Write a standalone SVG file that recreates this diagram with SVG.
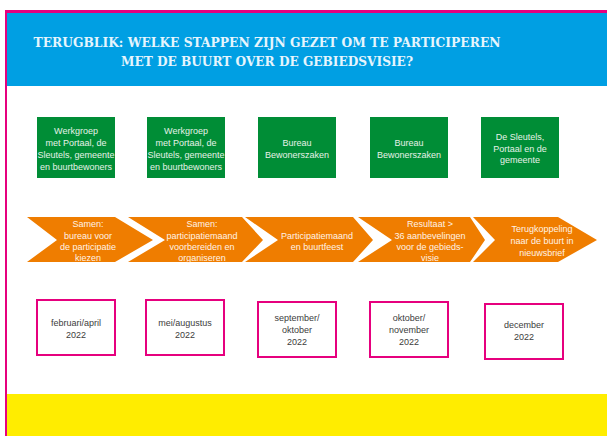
<svg xmlns="http://www.w3.org/2000/svg" width="607" height="436" viewBox="0 0 607 436">
<style>
.bg{fill:#ffffff}
.pink{fill:#e6007e}
.hdr{fill:#009fe3}
.yel{fill:#ffed00}
.title{font-family:"DejaVu Serif","Liberation Serif",serif;font-weight:bold;font-size:13px;fill:#e6f5fd;text-anchor:middle}
.gbox{fill:#008d36}
.gt{font-family:"Liberation Sans",Arial,sans-serif;font-size:9px;fill:#e6f2e8;text-anchor:middle}
.chev{fill:#ef7d00}
.ct{font-family:"Liberation Sans",Arial,sans-serif;font-size:9px;fill:#fff3e6;text-anchor:middle}
.dbox{fill:#ffffff;stroke:#e6007e;stroke-width:2}
.dt{font-family:"Liberation Sans",Arial,sans-serif;font-size:9px;fill:#3c3c3c;text-anchor:middle}
</style>
<rect class="bg" x="0" y="0" width="607" height="436"/>
<g id="frame">
<rect class="hdr" x="7" y="13" width="600" height="73"/>
<rect class="yel" x="7" y="394" width="600" height="42"/>
<rect class="pink" x="5" y="10" width="602" height="3"/>
<rect class="pink" x="5" y="10" width="2" height="426"/>
</g>
<g id="title">
<text class="title" x="267" y="47" textLength="467" lengthAdjust="spacingAndGlyphs">TERUGBLIK: WELKE STAPPEN ZIJN GEZET OM TE PARTICIPEREN</text>
<text class="title" x="267" y="66" textLength="292" lengthAdjust="spacingAndGlyphs">MET DE BUURT OVER DE GEBIEDSVISIE?</text>
</g>
<g id="actor1"><rect class="gbox" x="37" y="117" width="78" height="61"/>
<text class="gt" x="76" y="134">Werkgroep</text><text class="gt" x="76" y="146">met Portaal, de</text><text class="gt" x="76" y="158">Sleutels, gemeente</text><text class="gt" x="76" y="170">en buurtbewoners</text></g>
<g id="actor2"><rect class="gbox" x="147" y="117" width="78" height="61"/>
<text class="gt" x="186" y="134">Werkgroep</text><text class="gt" x="186" y="146">met Portaal, de</text><text class="gt" x="186" y="158">Sleutels, gemeente</text><text class="gt" x="186" y="170">en buurtbewoners</text></g>
<g id="actor3"><rect class="gbox" x="258" y="117" width="78" height="61"/>
<text class="gt" x="297" y="146">Bureau</text><text class="gt" x="297" y="158">Bewonerszaken</text></g>
<g id="actor4"><rect class="gbox" x="370" y="117" width="78" height="61"/>
<text class="gt" x="409" y="146">Bureau</text><text class="gt" x="409" y="158">Bewonerszaken</text></g>
<g id="actor5"><rect class="gbox" x="481" y="117" width="78" height="61"/>
<text class="gt" x="520" y="140">De Sleutels,</text><text class="gt" x="520" y="151.5">Portaal en de</text><text class="gt" x="520" y="163">gemeente</text></g>
<g id="step1"><polygon class="chev" points="27,217 115,217 153,240 115,262 27,262 57,240"/>
<text class="ct" x="88" y="227">Samen:</text><text class="ct" x="88" y="238.5">bureau voor</text><text class="ct" x="88" y="250">de participatie</text><text class="ct" x="88" y="261">kiezen</text></g>
<g id="step2"><polygon class="chev" points="128,217 242,217 263,240 242,262 128,262 165,240"/>
<text class="ct" x="202" y="227">Samen:</text><text class="ct" x="202" y="238.5">participatiemaand</text><text class="ct" x="202" y="250">voorbereiden en</text><text class="ct" x="202" y="261">organiseren</text></g>
<g id="step3"><polygon class="chev" points="245,217 353,217 373,240 353,262 245,262 278,240"/>
<text class="ct" x="317" y="238.5">Participatiemaand</text><text class="ct" x="317" y="250">en buurtfeest</text></g>
<g id="step4"><polygon class="chev" points="358,217 470,217 485,240 470,262 358,262 392,240"/>
<text class="ct" x="430" y="227">Resultaat &gt;</text><text class="ct" x="430" y="238.5">36 aanbevelingen</text><text class="ct" x="430" y="250">voor de gebieds-</text><text class="ct" x="430" y="261">visie</text></g>
<g id="step5"><polygon class="chev" points="473,217 558,217 597,240 558,262 473,262 495,240"/>
<text class="ct" x="542" y="232">Terugkoppeling</text><text class="ct" x="542" y="244">naar de buurt in</text><text class="ct" x="542" y="255.5">nieuwsbrief</text></g>
<g id="date1"><rect class="dbox" x="37" y="300" width="78" height="55"/>
<text class="dt" x="76" y="326">februari/april</text><text class="dt" x="76" y="338">2022</text></g>
<g id="date2"><rect class="dbox" x="146" y="300" width="78" height="55"/>
<text class="dt" x="185" y="326">mei/augustus</text><text class="dt" x="185" y="338">2022</text></g>
<g id="date3"><rect class="dbox" x="258" y="302" width="78" height="55"/>
<text class="dt" x="297" y="321">september/</text><text class="dt" x="297" y="333">oktober</text><text class="dt" x="297" y="345">2022</text></g>
<g id="date4"><rect class="dbox" x="370" y="302" width="78" height="55"/>
<text class="dt" x="409" y="321">oktober/</text><text class="dt" x="409" y="333">november</text><text class="dt" x="409" y="345">2022</text></g>
<g id="date5"><rect class="dbox" x="485" y="304" width="78" height="55"/>
<text class="dt" x="524" y="328">december</text><text class="dt" x="524" y="340">2022</text></g>
<g id="connectors"></g>
</svg>
